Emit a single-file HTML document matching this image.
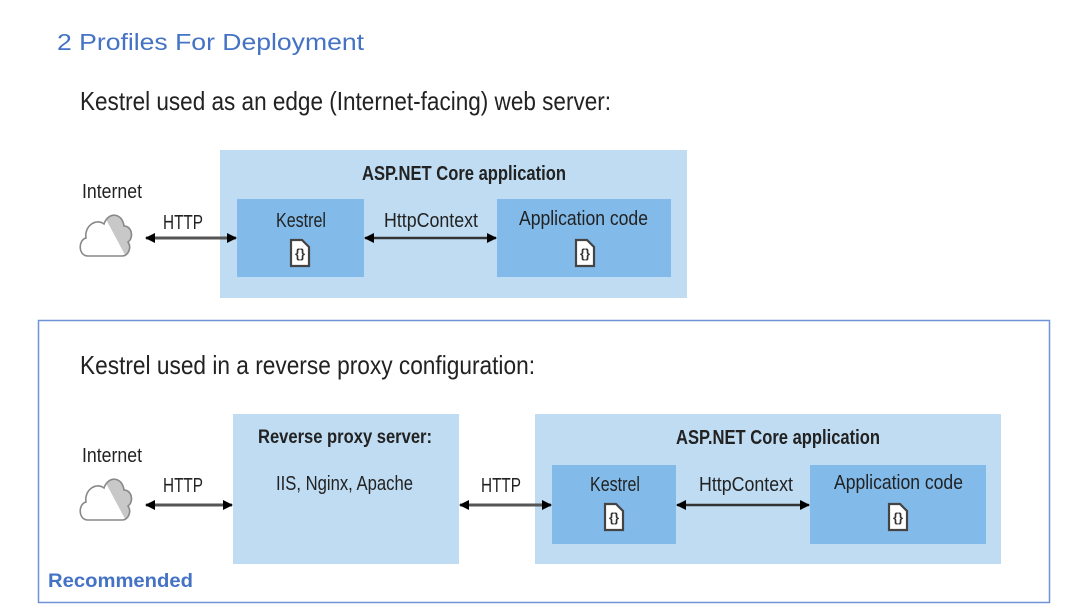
<!DOCTYPE html>
<html><head><meta charset="utf-8"><style>
html,body{margin:0;padding:0;background:#fff;}
svg{display:block;}
text{font-family:"Liberation Sans",sans-serif;fill:#222;}
</style></head><body>
<svg width="1085" height="612" viewBox="0 0 1085 612" xmlns="http://www.w3.org/2000/svg">
<defs>
<marker id="ah" viewBox="0 0 10 10" refX="9" refY="5" markerWidth="10" markerHeight="10" markerUnits="userSpaceOnUse" orient="auto-start-reverse">
<path d="M0,0 L10,5 L0,10 z" fill="#000"/></marker>
<clipPath id="cc"><path d="M8,48 C-2,48 -2,32 6,30 C4,18 16,10 24,16 C28,4 42,4 44,18 C52,18 54,30 48,34 C52,40 48,48 42,48 Z"/></clipPath>
<g id="doc"><path d="M-9,-12 h11 l7,7 v19 h-18 z" fill="#fff" stroke="#444" stroke-width="2.2"/><text x="0" y="6" font-size="13" font-weight="bold" text-anchor="middle" style="fill:#333">{}</text></g>
<g id="cloud">
<path d="M8,48 C-2,48 -2,32 6,30 C4,18 16,10 24,16 C28,4 42,4 44,18 C52,18 54,30 48,34 C52,40 48,48 42,48 Z" fill="#fff"/>
<polygon points="20,0 60,0 60,60 52,60" fill="#c8c8c8" clip-path="url(#cc)"/>
<path d="M8,48 C-2,48 -2,32 6,30 C4,18 16,10 24,16 C28,4 42,4 44,18 C52,18 54,30 48,34 C52,40 48,48 42,48 Z" fill="none" stroke="#888" stroke-width="1.6"/>
</g>
</defs>
<text x="57" y="50" font-size="23" textLength="307" lengthAdjust="spacingAndGlyphs" style="fill:#4472c4">2 Profiles For Deployment</text>
<text x="80" y="110" font-size="26" textLength="531" lengthAdjust="spacingAndGlyphs">Kestrel used as an edge (Internet-facing) web server:</text>

<rect x="220" y="150" width="467" height="148" fill="#bfdcf3"/>
<rect x="237" y="199" width="127" height="78" fill="#82bbea"/>
<rect x="497" y="199" width="174" height="78" fill="#82bbea"/>
<text x="362" y="180" font-size="20" font-weight="bold" textLength="204" lengthAdjust="spacingAndGlyphs">ASP.NET Core application</text>
<use href="#cloud" x="80" y="208"/>
<text x="82" y="198" font-size="20" textLength="60" lengthAdjust="spacingAndGlyphs">Internet</text>
<text x="163" y="229" font-size="20" textLength="40" lengthAdjust="spacingAndGlyphs">HTTP</text>
<text x="276" y="227" font-size="20" textLength="50" lengthAdjust="spacingAndGlyphs">Kestrel</text>
<text x="384" y="227" font-size="20" textLength="94" lengthAdjust="spacingAndGlyphs">HttpContext</text>
<text x="519" y="225" font-size="20" textLength="129" lengthAdjust="spacingAndGlyphs">Application code</text>
<use href="#doc" x="300" y="252"/>
<use href="#doc" x="585" y="252"/>
<line x1="146" y1="238" x2="236" y2="238" stroke="#555" stroke-width="3" marker-start="url(#ah)" marker-end="url(#ah)"/>
<line x1="365" y1="238" x2="496" y2="238" stroke="#333" stroke-width="2.5" marker-start="url(#ah)" marker-end="url(#ah)"/>

<rect x="38.5" y="320.5" width="1011" height="282" fill="none" stroke="#6f93d6" stroke-width="1.5"/>
<text x="80" y="374" font-size="26" textLength="455" lengthAdjust="spacingAndGlyphs">Kestrel used in a reverse proxy configuration:</text>
<rect x="233" y="414" width="226" height="150" fill="#bfdcf3"/>
<rect x="535" y="414" width="466" height="150" fill="#bfdcf3"/>
<rect x="552" y="465" width="124" height="79" fill="#82bbea"/>
<rect x="810" y="465" width="176" height="79" fill="#82bbea"/>
<use href="#cloud" x="80" y="472"/>
<text x="82" y="462" font-size="20" textLength="60" lengthAdjust="spacingAndGlyphs">Internet</text>
<text x="163" y="492" font-size="20" textLength="40" lengthAdjust="spacingAndGlyphs">HTTP</text>
<text x="258" y="443" font-size="19" font-weight="bold" textLength="174" lengthAdjust="spacingAndGlyphs">Reverse proxy server:</text>
<text x="276" y="490" font-size="20" textLength="137" lengthAdjust="spacingAndGlyphs">IIS, Nginx, Apache</text>
<text x="481" y="492" font-size="20" textLength="40" lengthAdjust="spacingAndGlyphs">HTTP</text>
<text x="676" y="444" font-size="20" font-weight="bold" textLength="204" lengthAdjust="spacingAndGlyphs">ASP.NET Core application</text>
<text x="590" y="491" font-size="20" textLength="50" lengthAdjust="spacingAndGlyphs">Kestrel</text>
<text x="699" y="491" font-size="20" textLength="94" lengthAdjust="spacingAndGlyphs">HttpContext</text>
<text x="834" y="489" font-size="20" textLength="129" lengthAdjust="spacingAndGlyphs">Application code</text>
<use href="#doc" x="614" y="516"/>
<use href="#doc" x="898" y="516"/>
<line x1="146" y1="505" x2="232" y2="505" stroke="#555" stroke-width="3" marker-start="url(#ah)" marker-end="url(#ah)"/>
<line x1="460" y1="505" x2="551" y2="505" stroke="#555" stroke-width="3" marker-start="url(#ah)" marker-end="url(#ah)"/>
<line x1="677" y1="505" x2="809" y2="505" stroke="#333" stroke-width="2.5" marker-start="url(#ah)" marker-end="url(#ah)"/>
<text x="48" y="587" font-size="19" font-weight="bold" textLength="145" lengthAdjust="spacingAndGlyphs" style="fill:#4472c4">Recommended</text>
</svg>
</body></html>
